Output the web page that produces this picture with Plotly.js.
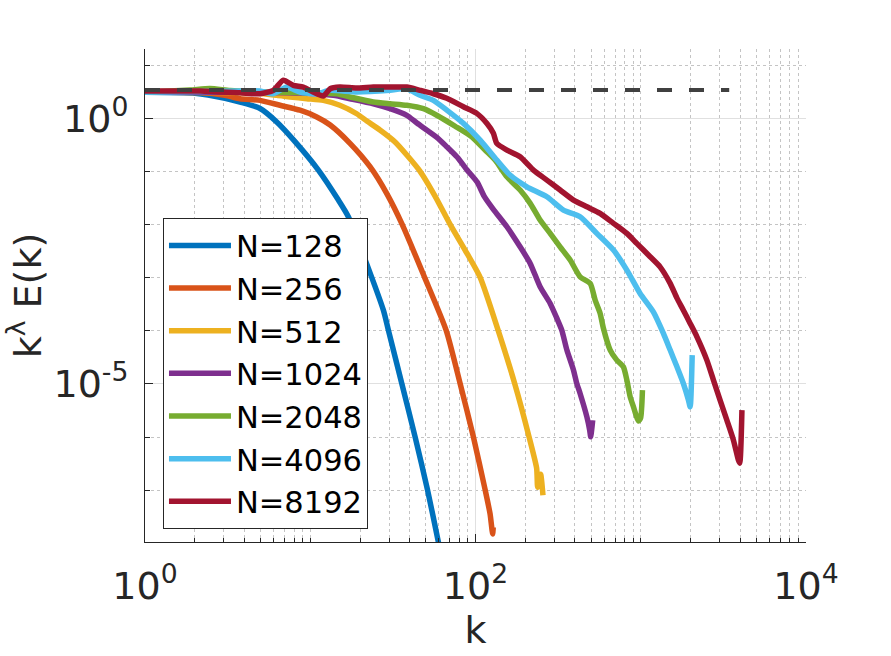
<!DOCTYPE html>
<html>
<head>
<meta charset="utf-8">
<script src="https://cdn.plot.ly/plotly-3.0.1.min.js"></script>
<style>
  html, body { margin: 0; padding: 0; background: #ffffff; }
  #chart { width: 891px; height: 656px; }
</style>
</head>
<body>
<div id="chart"></div>
<script>
// Series labels
const seriesNames = ["N=128", "N=256", "N=512", "N=1024", "N=2048", "N=4096", "N=8192"];

// Wavenumber k and compensated spectrum k^lambda E(k)
const k128 = [1, 2.01, 3.05, 3.76, 4.97, 6.27, 8.09, 11.2, 14.8, 17.0, 27.7, 29.7, 35.8, 43.1, 51.2, 59.6, 64];
const e128 = [3.09, 2.96, 2.38, 2.02, 1.53, 0.853, 0.364, 0.106, 0.0289, 0.01403, 2.45e-4, 1.03e-4, 1.02e-5, 1.01e-6, 1.03e-7, 1.06e-8, 3.5e-9];

const k256 = [1, 2.15, 3.05, 3.76, 4.97, 6.56, 8.67, 10.95, 13.2, 17.4, 23.0, 29.0, 36.0, 49.2, 66.4, 80.7, 97.1, 114.3, 122.5, 127, 128];
const e256 = [3.09, 3.05, 2.7, 2.34, 2.18, 1.76, 1.42, 1.06, 0.748, 0.338, 0.1227, 0.0387, 0.01009, 1.014e-3, 1.03e-4, 1.02e-5, 1.01e-6, 1.03e-7, 3.6e-8, 1.5e-8, 2.0e-8];

const k512 = [1, 4.32, 6.27, 7.55, 9.52, 12.0, 15.1, 19.1, 22.0, 26.4, 32.6, 46.1, 56.9, 70.2, 86.5, 106.7, 137, 172.6, 210.9, 234.4, 237.7, 247.7, 256];
const e512 = [3.09, 3.02, 2.71, 2.52, 2.34, 2.18, 1.76, 1.22, 0.889, 0.603, 0.358, 0.1016, 0.0344, 0.01009, 3.31e-3, 1.014e-3, 1.03e-4, 1.02e-5, 1.01e-6, 2.59e-7, 1.14e-7, 2.0e-7, 8.05e-8];

const k1024 = [1, 4.32, 8.67, 13.8, 17.4, 24.1, 30.4, 38.4, 44.2, 58.6, 67.3, 77.4, 88.9, 102.3, 112.7, 127.9, 154.9, 186.2, 214.3, 246.0, 283.1, 310.5, 332.7, 357.3, 391.7, 410.2, 429.5, 472.1, 490.9, 497.7, 506, 512];
const e1024 = [3.09, 3.10, 2.99, 2.71, 2.34, 1.88, 1.52, 1.14, 0.816, 0.435, 0.288, 0.1866, 0.1062, 0.0631, 0.0344, 0.0196, 9.1e-3, 3.82e-3, 1.86e-3, 6.75e-4, 3.28e-4, 1.73e-4, 1.03e-4, 4.34e-5, 1.82e-5, 1.02e-5, 6.62e-6, 2.40e-6, 1.35e-6, 1.01e-6, 1.47e-6, 2.08e-6];

const k2048 = [1, 1.87, 2.47, 3.27, 4.97, 8.67, 14.5, 17.4, 24.1, 30.4, 38.4, 48.4, 58.6, 75.3, 95.0, 114.3, 131.4, 154.9, 186.2, 214.3, 246.0, 283.1, 325.1, 374.1, 429.5, 494.3, 529.7, 567.5, 594.3, 653.1, 716.1, 785.2, 824.1, 863.0, 903.6, 968.3, 997.7, 1024];
const e2048 = [3.09, 3.41, 3.64, 3.34, 3.13, 3.06, 2.90, 2.52, 2.03, 1.88, 1.76, 1.52, 1.13, 0.710, 0.450, 0.253, 0.164, 0.0794, 0.0447, 0.0251, 0.01216, 6.82e-3, 3.82e-3, 2.15e-3, 1.04e-3, 7.82e-4, 3.78e-4, 2.15e-4, 1.12e-4, 4.34e-5, 2.81e-5, 2.10e-5, 1.18e-5, 5.71e-6, 3.71e-6, 2.0e-6, 2.27e-6, 7.64e-6];

const k4096 = [1, 2.15, 3.76, 4.97, 5.98, 7.21, 8.67, 10.95, 13.2, 19.1, 30.4, 38.4, 46.2, 55.6, 67.0, 84.5, 106.7, 134.6, 161.8, 204.6, 270.4, 340.4, 429.5, 542.0, 683.9, 824.1, 990.8, 1194, 1371, 1507, 1656, 1811, 1945, 1991, 2048];
const e4096 = [3.09, 3.20, 3.27, 3.27, 2.9, 3.88, 3.13, 2.90, 3.37, 3.13, 3.37, 3.61, 2.71, 2.18, 1.43, 0.805, 0.390, 0.164, 0.0855, 0.0515, 0.0334, 0.01875, 0.01403, 6.82e-3, 3.31e-3, 1.39e-3, 5.06e-4, 2.25e-4, 8.93e-5, 4.34e-5, 2.10e-5, 1.02e-5, 4.95e-6, 3.71e-6, 3.48e-5];

const k8192 = [1, 2.15, 3.76, 4.97, 5.98, 6.87, 7.90, 9.08, 10.4, 12.0, 13.2, 15.1, 19.1, 24.1, 30.4, 38.4, 46.2, 55.6, 67.0, 84.5, 101.8, 117.0, 128.3, 134.6, 154.9, 186.2, 224.1, 270.4, 325.1, 391.7, 472.1, 567.5, 683.9, 824.1, 946.2, 1140, 1309, 1507, 1656, 1811, 1991, 2188, 2512, 2754, 3020, 3319, 3639, 3900, 3972, 4096];
const e8192 = [3.27, 3.27, 3.03, 2.90, 3.37, 5.20, 4.18, 3.88, 3.13, 2.63, 3.61, 3.88, 3.72, 3.88, 3.88, 3.88, 3.37, 2.90, 2.38, 1.65, 1.24, 0.805, 0.522, 0.338, 0.253, 0.189, 0.106, 0.0688, 0.0447, 0.0289, 0.0216, 0.01625, 0.01054, 6.82e-3, 4.43e-3, 2.48e-3, 1.60e-3, 7.82e-4, 4.13e-4, 2.45e-4, 1.38e-4, 7.71e-5, 2.81e-5, 1.18e-5, 4.95e-6, 2.08e-6, 8.75e-7, 3.67e-7, 3.23e-7, 3.21e-6];

// Reference plateau (dashed line)
const kRef = [1, 3430];
const eRef = [3.41, 3.41];

// Tick labels
const xTickVals = [1, 100, 10000];
const xTickText = ["10<sup>0</sup>", "10<sup>2</sup>", "10<sup>4</sup>"];
const yTickVals = [1e-5, 1];
const yTickText = ["10<sup>-5</sup>", "10<sup>0</sup>"];

const kSets = [k128, k256, k512, k1024, k2048, k4096, k8192];
const eSets = [e128, e256, e512, e1024, e2048, e4096, e8192];
const colors = ["#0072BD", "#D95319", "#EDB120", "#7E2F8E", "#77AC30", "#4DBEEE", "#A2142F"];

const FONT = "DejaVu Sans, Liberation Sans, sans-serif";
const traces = seriesNames.map((name, i) => ({
  x: kSets[i], y: eSets[i], name: name, type: "scatter", mode: "lines",
  line: { color: colors[i], width: 5.5, shape: "spline", smoothing: 0.6 }, hoverinfo: "skip"
}));
traces.push({
  x: kRef, y: eRef, type: "scatter", mode: "lines", showlegend: false,
  line: { color: "#404040", width: 4, dash: "15px,17px" }, hoverinfo: "skip"
});

const axisCommon = {
  type: "log",
  showline: true, linecolor: "#262626", linewidth: 1,
  ticks: "inside", ticklen: 8, tickcolor: "#262626", tickwidth: 1,
  showgrid: true, gridcolor: "#e0e0e0", gridwidth: 1,
  zeroline: false, mirror: false,
  tickfont: { family: FONT, size: 38, color: "#262626" },
  tickmode: "array"
};

const layout = {
  width: 891, height: 656,
  margin: { l: 145, r: 85, t: 49, b: 114.3 },
  paper_bgcolor: "#ffffff", plot_bgcolor: "#ffffff",
  showlegend: true,
  xaxis: Object.assign({}, axisCommon, {
    range: [0, 4],
    tickvals: xTickVals, ticktext: xTickText,
    ticklabelstandoff: 10,
    title: { text: "k", font: { family: FONT, size: 38, color: "#262626" }, standoff: 0 },
    minor: { dtick: "D1", ticks: "inside", ticklen: 4, tickcolor: "#262626",
             showgrid: true, gridcolor: "#c4c4c4", griddash: "dot", gridwidth: 1 }
  }),
  yaxis: Object.assign({}, axisCommon, {
    range: [-7.975, 1.305],
    tickvals: yTickVals, ticktext: yTickText,
    ticklabelstandoff: 8,
    title: { text: "k<sup>λ</sup> E(k)", font: { family: FONT, size: 38, color: "#262626" }, standoff: 10 },
    minor: { dtick: 1, tick0: 0, ticks: "inside", ticklen: 5, tickcolor: "#262626",
             showgrid: true, gridcolor: "#c4c4c4", griddash: "dot", gridwidth: 1 }
  }),
  legend: {
    x: 0.0272, y: 0.657, xanchor: "left", yanchor: "top",
    bgcolor: "#ffffff", bordercolor: "#262626", borderwidth: 1,
    font: { family: FONT, size: 30.5, color: "#000000" },
    itemwidth: 62, tracegroupgap: 0
  }
};

Plotly.newPlot("chart", traces, layout, { staticPlot: true, displayModeBar: false });
</script>
</body>
</html>
